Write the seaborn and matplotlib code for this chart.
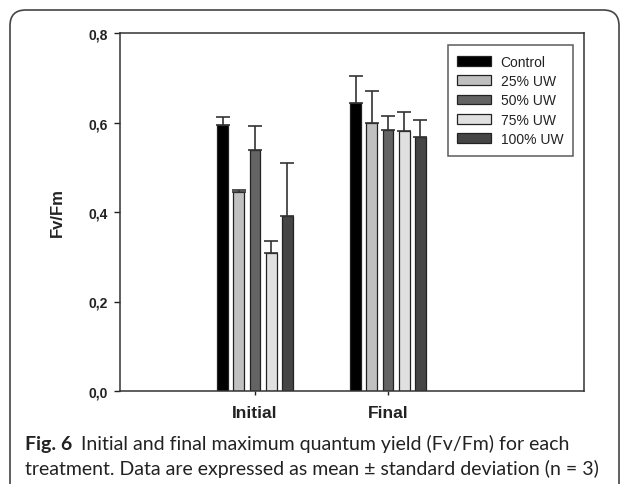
import pandas as pd
import matplotlib.pyplot as plt
import seaborn as sns
from matplotlib.patches import FancyBboxPatch

# data
phases = ["Initial", "Final"]
treatments = ["Control", "25% UW", "50% UW", "75% UW", "100% UW"]
mean_initial = [0.595, 0.444, 0.539, 0.308, 0.392]
mean_final = [0.643, 0.600, 0.584, 0.582, 0.568]
sd_initial = [0.018, 0.006, 0.053, 0.028, 0.117]
sd_final = [0.060, 0.070, 0.031, 0.041, 0.037]
bar_colors = ["#000000", "#c0c0c0", "#646464", "#e0e0e0", "#454545"]
y_ticks = [0.0, 0.2, 0.4, 0.6, 0.8]

df = pd.DataFrame({
    "phase": ["Initial"] * 5 + ["Final"] * 5,
    "treatment": treatments * 2,
    "value": mean_initial + mean_final,
    "sd": sd_initial + sd_final,
})

sns.set_style("white")
plt.rcParams["font.family"] = ["Liberation Sans", "DejaVu Sans"]

W, H = 629, 485
fig = plt.figure(figsize=(W / 100, H / 100), dpi=100)
ax = fig.add_axes([120 / W, (H - 392) / H, 464 / W, 358 / H])

sns.barplot(data=df, x="phase", y="value", hue="treatment", order=phases,
            hue_order=treatments, palette=bar_colors, width=0.61, gap=0.34,
            edgecolor="#222222", linewidth=0.9, errorbar=None, ax=ax)

# upper-only error bars at the bar centres
for cont, trt in zip(ax.containers, treatments):
    sub = df[df["treatment"] == trt].set_index("phase").loc[phases]
    xs = [b.get_x() + b.get_width() / 2 for b in cont]
    ax.errorbar(xs, sub["value"], yerr=[[0] * len(xs), sub["sd"]], fmt="none",
                ecolor="#333333", elinewidth=1.2, capsize=5, capthick=1.2, zorder=3)

ax.set_xlim(-1.015, 2.474)
ax.set_ylim(0, 0.8)
ax.set_yticks(y_ticks)
ax.set_yticklabels([f"{v:.1f}".replace(".", ",") for v in y_ticks],
                   fontsize=10, fontweight="bold", color="#222222")
ax.set_xticks([0, 1])
ax.set_xticklabels(phases, fontsize=12.5, fontweight="bold", color="#222222")
ax.tick_params(axis="y", direction="out", length=4, width=1, pad=5, left=True, colors="#222222")
ax.tick_params(axis="x", direction="out", length=3, width=1, pad=7, bottom=True, colors="#222222")
ax.set_xlabel("")
ax.set_ylabel("Fv/Fm", fontsize=12, fontweight="bold", labelpad=17, color="#222222")
for s in ax.spines.values():
    s.set_visible(True)
    s.set_color("#333333")
    s.set_linewidth(1.1)

leg = ax.legend(loc="upper right", bbox_to_anchor=(0.976, 0.966), borderaxespad=0,
                fontsize=10, frameon=True, fancybox=False, handlelength=2.45,
                handleheight=0.7, handletextpad=0.65, labelspacing=0.38,
                borderpad=0.7)
leg.get_frame().set_edgecolor("#333333")
leg.get_frame().set_linewidth(1.1)
for t in leg.get_texts():
    t.set_color("#222222")

# rounded outer frame, open at the bottom
frame = FancyBboxPatch((10 / W, -0.1), (W - 20) / W, (H - 11) / H + 0.1,
                       boxstyle="round,pad=0,rounding_size=0.025",
                       transform=fig.transFigure, fill=False,
                       edgecolor="#444444", linewidth=1.2, mutation_aspect=W / H)
fig.patches.append(frame)

# caption
cap_font = ["Lato", "DejaVu Sans"]
t1 = fig.text(25 / W, 1 - 450 / H, "Fig. 6", fontsize=14, fontweight="bold",
              family=cap_font, color="#222222")
ax.annotate("Initial and final maximum quantum yield (Fv/Fm) for each",
            xy=(1, 0), xycoords=t1, xytext=(6, 0), textcoords="offset points",
            fontsize=14, family=cap_font, color="#222222", va="bottom",
            annotation_clip=False)
fig.text(25 / W, 1 - 475 / H,
         "treatment. Data are expressed as mean \u00b1 standard deviation (n = 3)",
         fontsize=14, family=cap_font, color="#222222")

fig.savefig("out.png", dpi=100)
